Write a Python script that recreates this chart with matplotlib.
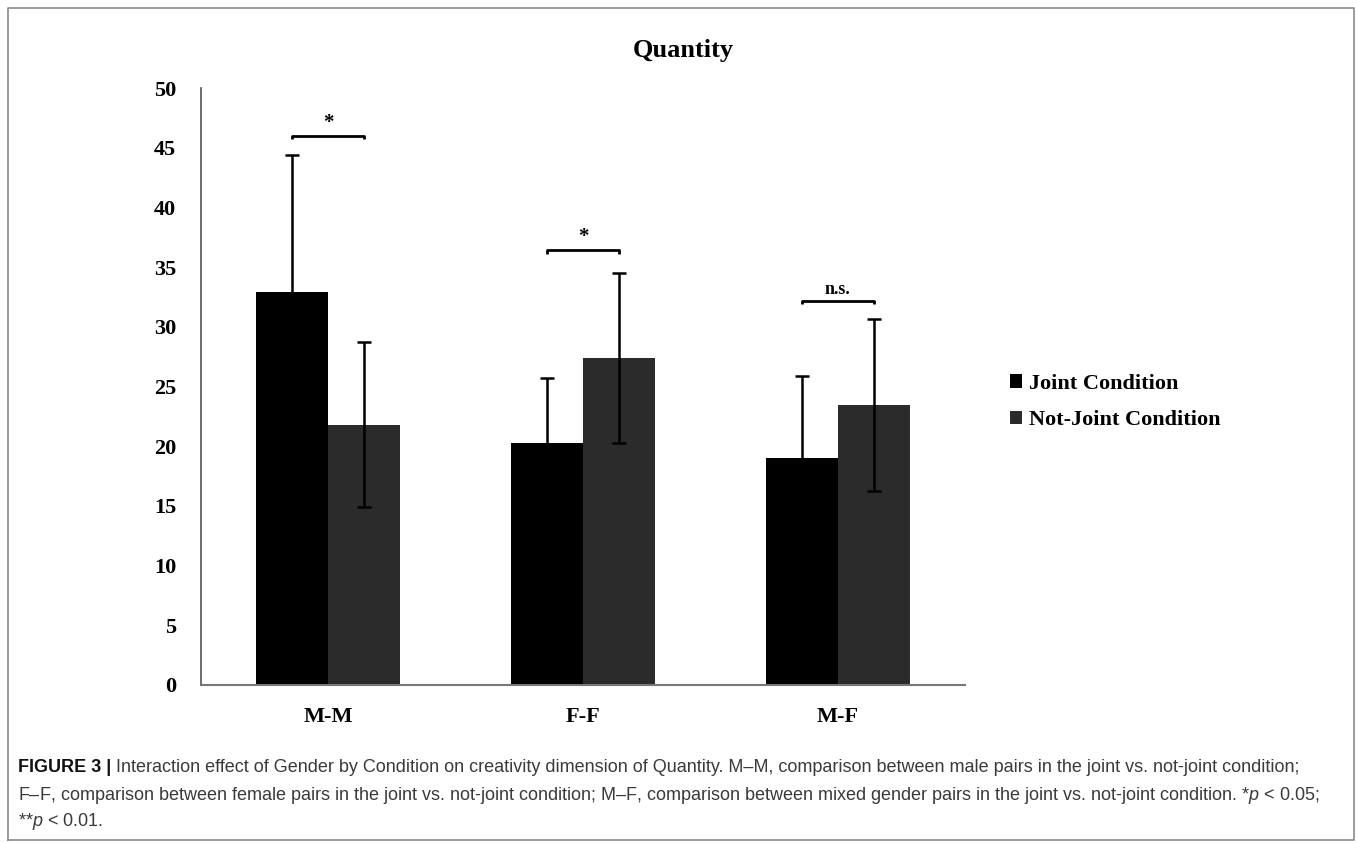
import matplotlib

matplotlib.use("Agg")
import matplotlib.pyplot as plt
from matplotlib.lines import Line2D
from matplotlib.patches import Patch
import numpy as np

groups = ["M-M", "F-F", "M-F"]
series = ["Joint Condition", "Not-Joint Condition"]
joint_mean = [32.9, 20.3, 19.0]
joint_sd = [11.5, 5.4, 6.9]
notjoint_mean = [21.8, 27.4, 23.45]
notjoint_sd = [6.9, 7.1, 7.2]
sig_labels = ["*", "*", "n.s."]
sig_heights = [46.0, 36.4, 32.2]
yticks = [0, 5, 10, 15, 20, 25, 30, 35, 40, 45, 50]

caption_head = "FIGURE 3 |"
caption_lines = [
    " Interaction effect of Gender by Condition on creativity dimension of Quantity. "
    "M\u2013M, comparison between male pairs in the joint vs. not-joint condition;",
    "F\u2013F, comparison between female pairs in the joint vs. not-joint condition; "
    "M\u2013F, comparison between mixed gender pairs in the joint vs. not-joint condition. "
    "*$p$ < 0.05;",
    "**$p$ < 0.01.",
]

plt.rcParams["mathtext.fontset"] = "custom"
plt.rcParams["mathtext.it"] = "Liberation Sans:italic"
plt.rcParams["mathtext.rm"] = "Liberation Sans"

SERIF = "Liberation Serif"
W, H = 1358, 843
fig = plt.figure(figsize=(W / 100, H / 100), dpi=100)
ax = fig.add_axes([201 / W, 1 - 685 / H, (965 - 201) / W, (685 - 88) / H])

x = np.arange(len(groups))
w = 0.283
ekw = dict(ecolor="black", elinewidth=1.8, capsize=5, capthick=1.8)
ax.bar(x - w / 2, joint_mean, w, color="#000000", yerr=joint_sd, error_kw=ekw, zorder=2)
ax.bar(x + w / 2, notjoint_mean, w, color="#2b2b2b", yerr=notjoint_sd, error_kw=ekw, zorder=2)

# significance brackets
for i, (lab, h) in enumerate(zip(sig_labels, sig_heights)):
    x0, x1 = i - w / 2, i + w / 2
    ax.plot([x0, x0, x1, x1], [h - 0.3, h, h, h - 0.3], color="black", lw=2, solid_capstyle="butt")
    ax.text(i, h + 0.25, lab, ha="center", va="bottom", family=SERIF,
            fontweight="bold", fontsize=15 if lab == "*" else 13)

ax.set_xlim(-0.5, 2.5)
ax.set_ylim(0, 50)
ax.set_yticks(yticks)
ax.set_xticks(x)
ax.set_xticklabels(groups)
for lbl in ax.get_yticklabels() + ax.get_xticklabels():
    lbl.set_family(SERIF)
    lbl.set_fontweight("bold")
    lbl.set_fontsize(16)
ax.tick_params(axis="y", length=0, pad=18)
ax.tick_params(axis="x", length=0, pad=16)
for s in ("top", "right"):
    ax.spines[s].set_visible(False)
ax.spines["left"].set_color("#555555")
ax.spines["bottom"].set_color("#777777")
ax.spines["left"].set_linewidth(1.2)
ax.spines["bottom"].set_linewidth(1.5)

fig.text(683 / W, 1 - 50 / H, "Quantity", ha="center", va="center", family=SERIF,
         fontweight="bold", fontsize=19)

handles = [Patch(facecolor="#000000"), Patch(facecolor="#2b2b2b")]
fig.legend(handles, series, loc="center left", bbox_to_anchor=(990 / W, 1 - 402 / H),
           frameon=False, handlelength=0.55, handleheight=0.55, handletextpad=0.3,
           labelspacing=0.75, prop=dict(family=SERIF, weight="bold", size=16))

# outer frame
fig.add_artist(Line2D([8 / W, 8 / W, 1354 / W, 1354 / W, 8 / W],
                      [1 - 840 / H, 1 - 8 / H, 1 - 8 / H, 1 - 840 / H, 1 - 840 / H],
                      transform=fig.transFigure, color="#8a8a8a", lw=1.2))

# caption
cap = dict(family="Liberation Sans", fontsize=13.0, color="#3a3a3a")
head = fig.text(18 / W, 1 - 767 / H, caption_head, va="center", ha="left",
                family="Liberation Sans", fontsize=13.0, fontweight="bold", color="#111111")
ax.annotate(caption_lines[0], xy=(1, 0.5), xycoords=head, va="center", ha="left",
            annotation_clip=False, **cap)
fig.text(18 / W, 1 - 795 / H, caption_lines[1], va="center", ha="left", **cap)
fig.text(18 / W, 1 - 822 / H, caption_lines[2], va="center", ha="left", **cap)

fig.savefig("out.png", dpi=100)
